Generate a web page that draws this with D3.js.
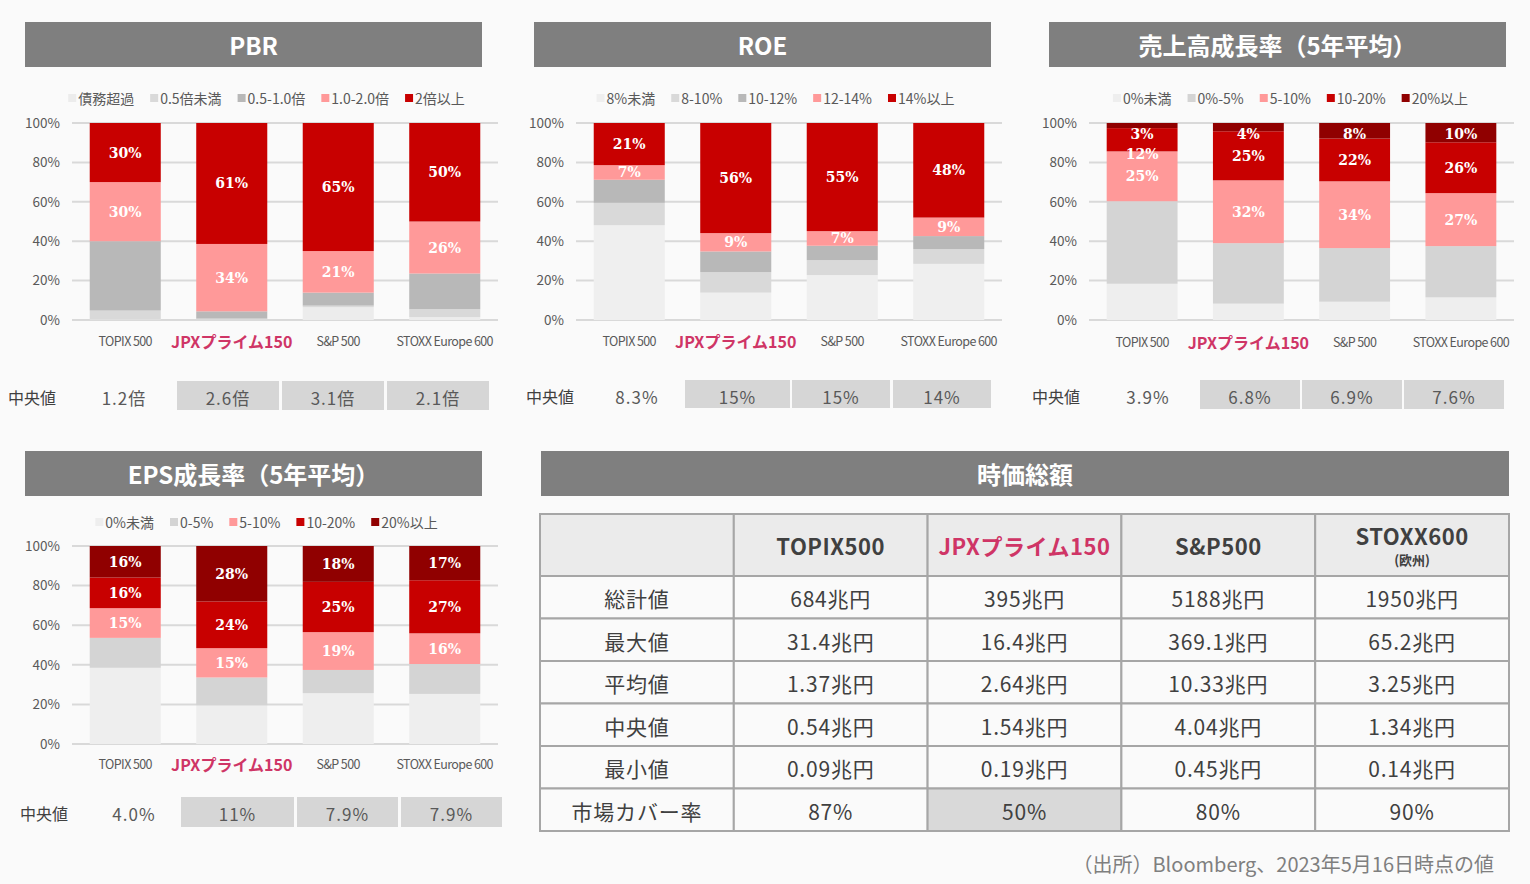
<!DOCTYPE html>
<html lang="ja">
<head>
<meta charset="utf-8">
<script src="https://cdn.jsdelivr.net/npm/d3@7"></script>
<style>
  body { margin: 0; background: #fafafa; }
  svg { display: block; font-family: 'Noto Sans CJK JP', 'Noto Sans', sans-serif; }
</style>
</head>
<body>
<svg id="chart" width="1530" height="884"></svg>
<script>
const indices = ['TOPIX 500', 'JPXプライム150', 'S&P 500', 'STOXX Europe 600']

// PBR distribution (% of constituents), bottom band first
const pbrBands = ['債務超過', '0.5倍未満', '0.5-1.0倍', '1.0-2.0倍', '2倍以上']
const pbrValues = [
  [0.3, 4.5, 35.2, 30.0, 30.0],
  [0.0, 0.7, 3.7, 34.2, 61.4],
  [6.5, 0.8, 6.6, 21.1, 65.0],
  [1.5, 4.0, 18.1, 26.4, 50.0]
]
const pbrMedians = ['1.2倍', '2.6倍', '3.1倍', '2.1倍']

const roeBands = ['8%未満', '8-10%', '10-12%', '12-14%', '14%以上']
const roeValues = [
  [48.1, 11.4, 11.7, 7.4, 21.4],
  [13.9, 10.4, 10.5, 9.3, 55.9],
  [22.8, 7.6, 7.3, 7.4, 54.9],
  [28.5, 7.5, 6.6, 9.4, 48.0]
]
const roeMedians = ['8.3%', '15%', '15%', '14%']

const salesBands = ['0%未満', '0%-5%', '5-10%', '10-20%', '20%以上']
const salesValues = [
  [18.4, 41.9, 25.3, 11.8, 2.6],
  [8.3, 30.7, 31.9, 24.9, 4.2],
  [9.3, 27.2, 33.9, 21.7, 7.9],
  [11.5, 26.0, 26.9, 25.8, 9.8]
]
const salesMedians = ['3.9%', '6.8%', '6.9%', '7.6%']

const epsBands = ['0%未満', '0-5%', '5-10%', '10-20%', '20%以上']
const epsValues = [
  [38.5, 15.1, 15.0, 15.5, 15.9],
  [19.5, 14.1, 14.8, 23.6, 28.0],
  [25.7, 11.7, 19.1, 25.4, 18.1],
  [25.3, 15.1, 15.5, 26.8, 17.3]
]
const epsMedians = ['4.0%', '11%', '7.9%', '7.9%']

// market cap table
const capCols = ['TOPIX500', 'JPXプライム150', 'S&P500', 'STOXX600']
const capColSubs = ['', '', '', '(欧州)']
const capRows = ['総計値', '最大値', '平均値', '中央値', '最小値', '市場カバー率']
const capValues = [
  ['684兆円', '395兆円', '5188兆円', '1950兆円'],
  ['31.4兆円', '16.4兆円', '369.1兆円', '65.2兆円'],
  ['1.37兆円', '2.64兆円', '10.33兆円', '3.25兆円'],
  ['0.54兆円', '1.54兆円', '4.04兆円', '1.34兆円'],
  ['0.09兆円', '0.19兆円', '0.45兆円', '0.14兆円'],
  ['87%', '50%', '80%', '90%']
]

const red = '#c80000'
const pink = '#ff9999'
const darkRed = '#900000'
const jpxColor = '#cf3566'
const textColor = '#595959'
const font = "'Noto Sans CJK JP', 'Noto Sans', sans-serif"

const panels = [
  {
    title: 'PBR', bands: pbrBands, values: pbrValues, medians: pbrMedians,
    colors: ['#ececec', '#d9d9d9', '#b8b8b8', pink, red], labelFrom: 3,
    hx: [25, 482], hy: 22, legendY: 98, px: [72, 498], py: [123, 320], xlabY: 340,
    medY: 397, medBox: [381, 410], medLabelX: 8, medFirstX: 124,
    boxes: [[177, 279], [282, 384], [387, 489]]
  },
  {
    title: 'ROE', bands: roeBands, values: roeValues, medians: roeMedians,
    colors: ['#efefef', '#d9d9d9', '#b8b8b8', pink, red], labelFrom: 3,
    hx: [534, 991], hy: 22, legendY: 98, px: [576, 1002], py: [123, 320], xlabY: 340,
    medY: 396, medBox: [380, 408], medLabelX: 526, medFirstX: 637,
    boxes: [[685, 790], [792, 890], [893, 991]]
  },
  {
    title: '売上高成長率（5年平均）', bands: salesBands, values: salesValues, medians: salesMedians,
    colors: ['#eeeeee', '#d4d4d4', pink, red, darkRed], labelFrom: 2,
    hx: [1049, 1506], hy: 22, legendY: 98, px: [1089, 1514], py: [123, 320], xlabY: 341,
    medY: 396, medBox: [380, 409], medLabelX: 1032, medFirstX: 1148,
    boxes: [[1200, 1300], [1302, 1402], [1404, 1504]]
  },
  {
    title: 'EPS成長率（5年平均）', bands: epsBands, values: epsValues, medians: epsMedians,
    colors: ['#eeeeee', '#d4d4d4', pink, red, darkRed], labelFrom: 2,
    hx: [25, 482], hy: 451, legendY: 522, px: [72, 498], py: [546, 744], xlabY: 763,
    medY: 813, medBox: [797, 827], medLabelX: 20, medFirstX: 134,
    boxes: [[181, 294], [297, 398], [401, 502]]
  }
]

const svg = d3.select('#chart')

function header(x0, x1, y0, title) {
  svg.append('rect')
    .attr('x', x0).attr('y', y0)
    .attr('width', x1 - x0).attr('height', 45)
    .attr('fill', '#7f7f7f')
  svg.append('text')
    .attr('x', (x0 + x1) / 2).attr('y', y0 + 22)
    .attr('text-anchor', 'middle').attr('dominant-baseline', 'central')
    .attr('fill', '#fff').attr('font-size', 24).attr('font-weight', 'bold')
    .text(title)
}

function drawPanel(p) {
  header(p.hx[0], p.hx[1], p.hy, p.title)
  const g = svg.append('g')

  const x = d3.scaleBand().domain(indices).range(p.px)
    .paddingInner(0.333).paddingOuter(0.1665)
  const y = d3.scaleLinear().domain([0, 100]).range([p.py[1], p.py[0]])
  const ticks = [0, 20, 40, 60, 80, 100]

  // grid
  g.append('g').selectAll('line').data(ticks).join('line')
    .attr('x1', p.px[0]).attr('x2', p.px[1])
    .attr('y1', (d) => y(d)).attr('y2', (d) => y(d))
    .attr('stroke', '#d9d9d9').attr('stroke-width', 2)

  // y axis
  g.append('g')
    .attr('transform', 'translate(' + p.px[0] + ',0)')
    .call(d3.axisLeft(y).tickValues(ticks).tickSize(0).tickPadding(12).tickFormat((d) => d + '%'))
    .attr('font-family', font).attr('font-size', 13.5)
    .call((a) => a.select('.domain').remove())
    .selectAll('text').attr('fill', textColor)

  // stacked bars
  const rows = indices.map((name, i) => {
    const o = { name }
    p.bands.forEach((b, j) => (o[b] = p.values[i][j]))
    return o
  })
  const series = d3.stack().keys(p.bands)(rows)

  g.append('g').selectAll('g').data(series).join('g')
    .attr('fill', (d, i) => p.colors[i])
    .selectAll('rect').data((d) => d).join('rect')
    .attr('x', (d) => x(d.data.name))
    .attr('y', (d) => y(d[1]))
    .attr('width', x.bandwidth())
    .attr('height', (d) => y(d[0]) - y(d[1]))

  // segment labels, pushed down when segments are too thin
  const labels = []
  indices.forEach((name, i) => {
    let prev = -Infinity
    for (let j = p.bands.length - 1; j >= p.labelFrom; j--) {
      const s = series[j][i]
      let cy = (y(s[0]) + y(s[1])) / 2
      cy = Math.max(cy, y(100) + 11, prev + 20)
      prev = cy
      labels.push({ name, cy, text: Math.round(s[1] - s[0]) + '%' })
    }
  })
  g.append('g').selectAll('text').data(labels).join('text')
    .attr('x', (d) => x(d.name) + x.bandwidth() / 2)
    .attr('y', (d) => d.cy)
    .attr('text-anchor', 'middle').attr('dominant-baseline', 'central')
    .attr('font-family', "'DejaVu Serif', serif").attr('font-weight', 'bold')
    .attr('font-size', 14).attr('fill', '#fff')
    .text((d) => d.text)

  // x labels
  g.append('g').selectAll('text').data(indices).join('text')
    .attr('x', (d) => x(d) + x.bandwidth() / 2)
    .attr('y', (d, i) => (i === 1 ? p.xlabY + 1 : p.xlabY))
    .attr('text-anchor', 'middle').attr('dominant-baseline', 'central')
    .attr('font-size', (d, i) => (i === 1 ? 16 : 12.5))
    .attr('font-weight', (d, i) => (i === 1 ? 'bold' : 'normal'))
    .attr('letter-spacing', (d, i) => (i === 1 ? 0 : -0.6))
    .attr('fill', (d, i) => (i === 1 ? jpxColor : textColor))
    .text((d) => d)

  // legend
  const legend = g.append('g')
  let lx = 0
  p.bands.forEach((b, j) => {
    legend.append('rect')
      .attr('x', lx).attr('y', p.legendY - 4)
      .attr('width', 8).attr('height', 8)
      .attr('fill', p.colors[j])
    const t = legend.append('text')
      .attr('x', lx + 10).attr('y', p.legendY)
      .attr('dominant-baseline', 'central')
      .attr('font-size', 14).attr('fill', textColor)
      .text(b)
    lx += 10 + t.node().getComputedTextLength() + 16
  })
  lx -= 16
  const cx = (p.hx[0] + p.hx[1]) / 2 + 13
  legend.attr('transform', 'translate(' + (cx - lx / 2) + ',0)')

  // median row
  g.append('g').selectAll('rect').data(p.boxes).join('rect')
    .attr('x', (d) => d[0]).attr('y', p.medBox[0])
    .attr('width', (d) => d[1] - d[0]).attr('height', p.medBox[1] - p.medBox[0])
    .attr('fill', '#d6d6d6')
  g.append('text')
    .attr('x', p.medLabelX).attr('y', p.medY)
    .attr('dominant-baseline', 'central')
    .attr('font-size', 16).attr('fill', '#404040')
    .text('中央値')
  const medX = [p.medFirstX].concat(p.boxes.map((d) => (d[0] + d[1]) / 2))
  g.append('g').selectAll('text').data(p.medians).join('text')
    .attr('x', (d, i) => medX[i]).attr('y', p.medY)
    .attr('text-anchor', 'middle').attr('dominant-baseline', 'central')
    .attr('font-size', 17).attr('letter-spacing', 1).attr('fill', textColor)
    .text((d) => d)
}

panels.forEach(drawPanel)

// market cap table
header(541, 1509, 451, '時価総額')

const tx = d3.scaleBand().domain([''].concat(capCols)).range([540, 1509])
const headTop = 514
const ty = d3.scaleBand().domain(capRows).range([576, 831])
const tbl = svg.append('g')
const border = '#a6a6a6'

tbl.selectAll('rect.head').data(tx.domain()).join('rect')
  .attr('x', (d) => tx(d)).attr('y', headTop)
  .attr('width', tx.bandwidth()).attr('height', ty.range()[0] - headTop)
  .attr('fill', '#ebebeb').attr('stroke', border).attr('stroke-width', 2)

const cells = []
capRows.forEach((r, i) => {
  cells.push({ row: r, col: '', text: r })
  capCols.forEach((c, j) => cells.push({ row: r, col: c, text: capValues[i][j] }))
})

tbl.selectAll('rect.cell').data(cells).join('rect')
  .attr('x', (d) => tx(d.col)).attr('y', (d) => ty(d.row))
  .attr('width', tx.bandwidth()).attr('height', ty.bandwidth())
  .attr('fill', (d) => (d.row === '市場カバー率' && d.col === 'JPXプライム150' ? '#d9d9d9' : '#fafafa'))
  .attr('stroke', border).attr('stroke-width', 2)

tbl.selectAll('text.cell').data(cells).join('text')
  .attr('x', (d) => tx(d.col) + tx.bandwidth() / 2)
  .attr('y', (d) => ty(d.row) + ty.bandwidth() / 2 + 1)
  .attr('text-anchor', 'middle').attr('dominant-baseline', 'central')
  .attr('font-size', 21).attr('letter-spacing', 0.8).attr('fill', '#404040')
  .text((d) => d.text)

const headMid = (headTop + ty.range()[0]) / 2
tbl.selectAll('text.head').data(capCols).join('text')
  .attr('x', (d) => tx(d) + tx.bandwidth() / 2)
  .attr('y', (d, i) => (capColSubs[i] ? headMid - 10 : headMid))
  .attr('text-anchor', 'middle').attr('dominant-baseline', 'central')
  .attr('font-size', 22).attr('font-weight', 'bold').attr('letter-spacing', 0.5)
  .attr('fill', (d, i) => (i === 1 ? jpxColor : '#404040'))
  .text((d) => d)
tbl.selectAll('text.sub').data(capCols.filter((d, i) => capColSubs[i])).join('text')
  .attr('x', (d) => tx(d) + tx.bandwidth() / 2)
  .attr('y', headMid + 14)
  .attr('text-anchor', 'middle').attr('dominant-baseline', 'central')
  .attr('font-size', 13).attr('font-weight', 'bold').attr('fill', '#404040')
  .text((d) => capColSubs[capCols.indexOf(d)])

// source note
svg.append('text')
  .attr('x', 1494).attr('y', 863)
  .attr('text-anchor', 'end').attr('dominant-baseline', 'central')
  .attr('font-size', 20).attr('fill', '#7f7f7f')
  .text('（出所）Bloomberg、2023年5月16日時点の値')
</script>
</body>
</html>
